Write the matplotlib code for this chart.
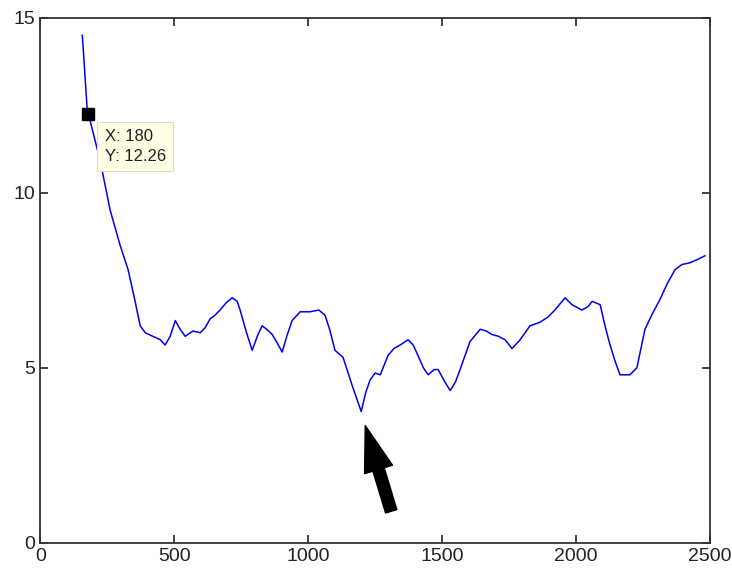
import matplotlib
matplotlib.use("Agg")
import matplotlib.pyplot as plt

# traced signal
x = [157, 175, 224, 261, 298, 328, 354, 373, 392, 420, 448, 466, 485, 504, 522, 541,
     570, 597, 616, 634, 652, 671, 693, 716, 735, 746, 770, 791, 810, 828, 845, 866,
     885, 903, 920, 940, 970, 1007, 1040, 1063, 1080, 1100, 1130, 1164, 1198, 1215,
     1231, 1250, 1269, 1298, 1320, 1343, 1373, 1392, 1410, 1430, 1448, 1470, 1485,
     1510, 1530, 1550, 1567, 1604, 1642, 1665, 1686, 1710, 1735, 1761, 1791, 1828,
     1865, 1895, 1921, 1959, 1985, 2022, 2045, 2060, 2090, 2108, 2125, 2145, 2164,
     2185, 2201, 2227, 2257, 2285, 2313, 2340, 2369, 2395, 2425, 2455, 2481]
y = [14.5, 12.4, 10.9, 9.5, 8.5, 7.8, 6.9, 6.2, 6.0, 5.9, 5.8, 5.65, 5.9, 6.35, 6.1, 5.9,
     6.05, 6.0, 6.15, 6.4, 6.5, 6.65, 6.85, 7.0, 6.9, 6.65, 6.0, 5.5, 5.9, 6.2, 6.1, 5.95,
     5.7, 5.45, 5.9, 6.35, 6.6, 6.6, 6.65, 6.5, 6.1, 5.5, 5.3, 4.5, 3.75, 4.3,
     4.65, 4.85, 4.8, 5.35, 5.55, 5.65, 5.8, 5.65, 5.35, 5.0, 4.8, 4.95, 4.95,
     4.6, 4.35, 4.6, 4.95, 5.75, 6.1, 6.05, 5.95, 5.9, 5.8, 5.55, 5.8, 6.2,
     6.3, 6.45, 6.65, 7.0, 6.8, 6.65, 6.75, 6.9, 6.8, 6.2, 5.7, 5.2, 4.8,
     4.8, 4.8, 5.0, 6.1, 6.55, 6.95, 7.4, 7.8, 7.95, 8.0, 8.1, 8.2]

tip_x = 180
tip_y = 12.26

plt.rcParams['font.family'] = ['Liberation Sans', 'DejaVu Sans']

fig = plt.figure(figsize=(7.32, 5.72), dpi=100)
ax = fig.add_axes([0.055, 0.051, 0.915, 0.918])

ax.plot(x, y, color='#0000ee', linewidth=1.1)
ax.plot([tip_x], [tip_y], marker='s', color='black', markersize=9, linestyle='none')
ax.text(tip_x + 60, tip_y - 0.45, "X: 180\nY: 12.26", fontsize=12, color='#222222',
        va='top', ha='left', linespacing=1.35,
        bbox=dict(boxstyle='square,pad=0.45', facecolor='#ffffe6', edgecolor='#dcdcc8', linewidth=0.8))

# arrow pointing at the dip
ax.annotate('', xy=(1213, 3.35), xytext=(1310, 0.9),
            arrowprops=dict(arrowstyle='simple,head_length=3.3,head_width=2.1,tail_width=0.85',
                            color='black', shrinkA=0, shrinkB=0))

ax.set_xlim(0, 2500)
ax.set_ylim(0, 15)
ax.set_xticks([0, 500, 1000, 1500, 2000, 2500])
ax.set_yticks([0, 5, 10, 15])
ax.tick_params(direction='in', top=True, right=True, length=6, width=1.2,
               labelsize=14, colors='#222222')
for s in ax.spines.values():
    s.set_linewidth(1.3)
    s.set_color('#333333')

fig.savefig('out.png', dpi=100)
